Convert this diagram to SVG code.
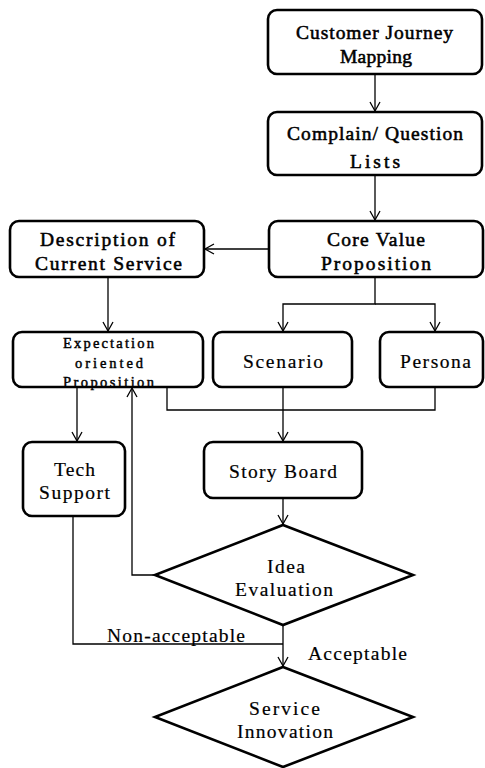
<svg xmlns="http://www.w3.org/2000/svg" width="485" height="768" viewBox="0 0 485 768">
<style>
.box{fill:#fff;stroke:#000;stroke-width:2.6}
.con{fill:none;stroke:#000;stroke-width:1.3}
text{font-family:"Liberation Serif","DejaVu Serif",serif;font-size:19.5px;text-anchor:middle;fill:#000}
.b{stroke:#000;stroke-width:0.55}
.r{stroke:#000;stroke-width:0.2}
.s{font-size:14.5px;stroke:#000;stroke-width:0.45}
</style>
<defs>
<marker id="arr" markerUnits="userSpaceOnUse" markerWidth="12" markerHeight="12" refX="10" refY="6" orient="auto">
<path d="M1,1 L10,6 L1,11" fill="none" stroke="#000" stroke-width="1.3"/>
</marker>
</defs>
<rect width="485" height="768" fill="#fff"/>
<g id="connectors">
<line class="con" x1="375" y1="74" x2="375" y2="111" marker-end="url(#arr)"/>
<line class="con" x1="375" y1="175" x2="375" y2="220" marker-end="url(#arr)"/>
<line class="con" x1="269" y1="249" x2="205" y2="249" marker-end="url(#arr)"/>
<line class="con" x1="108" y1="277" x2="108" y2="331" marker-end="url(#arr)"/>
<polyline class="con" points="375,277 375,304 283,304 283,331" marker-end="url(#arr)"/>
<polyline class="con" points="375,304 435,304 435,331" marker-end="url(#arr)"/>
<line class="con" x1="77" y1="387" x2="77" y2="441" marker-end="url(#arr)"/>
<polyline class="con" points="155,575 132,575 132,388" marker-end="url(#arr)"/>
<polyline class="con" points="167,387 167,410 435,410 435,387"/>
<line class="con" x1="283" y1="387" x2="283" y2="441" marker-end="url(#arr)"/>
<line class="con" x1="283" y1="498" x2="283" y2="524" marker-end="url(#arr)"/>
<polyline class="con" points="73,516 73,644 283,644"/>
<line class="con" x1="283" y1="625" x2="283" y2="666" marker-end="url(#arr)"/>
<text class="r" x="176" y="642" textLength="138" lengthAdjust="spacing">Non-acceptable</text>
<text class="r" x="357.5" y="660" textLength="99" lengthAdjust="spacing">Acceptable</text>
</g>
<g id="n1"><rect class="box" x="268" y="10" width="214" height="64" rx="9"/>
<text class="b" x="374.5" y="39" textLength="157" lengthAdjust="spacing">Customer Journey</text><text class="b" x="376" y="63" textLength="72" lengthAdjust="spacing">Mapping</text></g>
<g id="n2"><rect class="box" x="268" y="112" width="214" height="63" rx="9"/>
<text class="b" x="375" y="140" textLength="176" lengthAdjust="spacing">Complain/ Question</text><text class="b" x="375" y="168" textLength="50" lengthAdjust="spacing">Lists</text></g>
<g id="n3"><rect class="box" x="10" y="221" width="194" height="56" rx="9"/>
<text class="b" x="107.5" y="246" textLength="135" lengthAdjust="spacing">Description of</text><text class="b" x="108.5" y="270" textLength="147" lengthAdjust="spacing">Current Service</text></g>
<g id="n4"><rect class="box" x="269" y="221" width="214" height="56" rx="9"/>
<text class="b" x="376" y="246" textLength="98" lengthAdjust="spacing">Core Value</text><text class="b" x="376" y="270" textLength="110" lengthAdjust="spacing">Proposition</text></g>
<g id="n5"><rect class="box" x="13" y="332" width="190" height="55" rx="9"/>
<text class="s" x="108.5" y="348" textLength="91" lengthAdjust="spacing">Expectation</text><text class="s" x="109" y="368" textLength="68" lengthAdjust="spacing">oriented</text><text class="s" x="108.5" y="387" textLength="91" lengthAdjust="spacing">Proposition</text></g>
<g id="n6"><rect class="box" x="213" y="332" width="139" height="55" rx="9"/>
<text class="r" x="283" y="368" textLength="80" lengthAdjust="spacing">Scenario</text></g>
<g id="n7"><rect class="box" x="380" y="332" width="103" height="55" rx="9"/>
<text class="r" x="435.5" y="368" textLength="71" lengthAdjust="spacing">Persona</text></g>
<g id="n8"><rect class="box" x="23" y="442" width="102" height="74" rx="9"/>
<text class="r" x="74.5" y="476" textLength="41" lengthAdjust="spacing">Tech</text><text class="r" x="74.5" y="499" textLength="71" lengthAdjust="spacing">Support</text></g>
<g id="n9"><rect class="box" x="204" y="442" width="158" height="56" rx="9"/>
<text class="r" x="283" y="478" textLength="108" lengthAdjust="spacing">Story Board</text></g>
<g id="n10"><polygon class="box" points="283,525 413,575 283,625 155,575"/>
<text class="r" x="286" y="573" textLength="38" lengthAdjust="spacing">Idea</text><text class="r" x="284" y="596" textLength="98" lengthAdjust="spacing">Evaluation</text></g>
<g id="n11"><polygon class="box" points="283,667 413,717 283,767 155,717"/>
<text class="r" x="284.5" y="715" textLength="71" lengthAdjust="spacing">Service</text><text class="r" x="285" y="738" textLength="96" lengthAdjust="spacing">Innovation</text></g>
</svg>
